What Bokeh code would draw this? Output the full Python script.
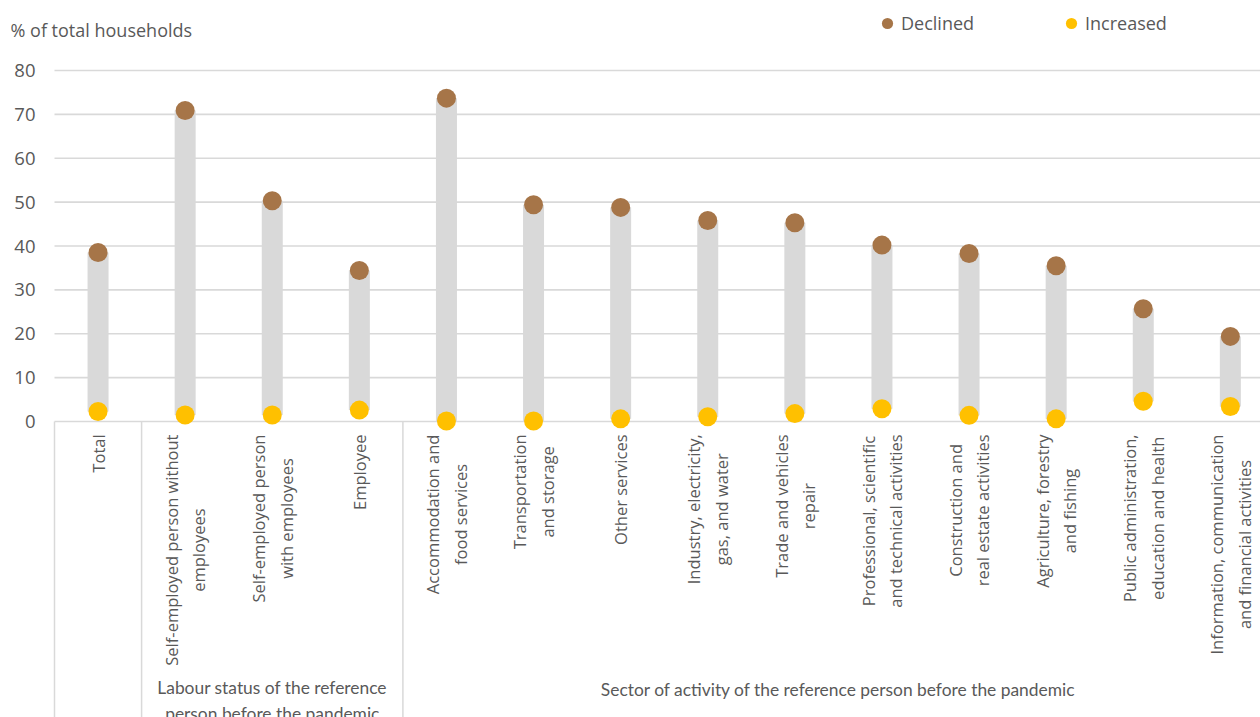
import math
from bokeh.plotting import figure
from bokeh.models import (Range1d, FixedTicker, ColumnDataSource, Label, Legend, LegendItem)
from bokeh.core.properties import value
from bokeh.embed import file_html
from bokeh.resources import INLINE

# ---------------- data ----------------
categories = [
    "Total",
    "Self-employed person without\nemployees",
    "Self-employed person\nwith employees",
    "Employee",
    "Accommodation and\nfood services",
    "Transportation\nand storage",
    "Other services",
    "Industry, electricity,\ngas, and water",
    "Trade and vehicles\nrepair",
    "Professional, scientific\nand technical activities",
    "Construction and\nreal estate activities",
    "Agriculture, forestry\nand fishing",
    "Public administration,\neducation and health",
    "Information, communication\nand financial activities",
]
declined = [38.5, 70.9, 50.3, 34.4, 73.7, 49.4, 48.8, 45.8, 45.3, 40.2, 38.3, 35.5, 25.7, 19.4]
increased = [2.3, 1.5, 1.5, 2.6, 0.1, 0.1, 0.6, 1.1, 1.8, 2.9, 1.4, 0.6, 4.6, 3.4]
groups = ["Labour status of the reference\nperson before the pandemic",
          "Sector of activity of the reference person before the pandemic"]
group_first = [1, 4]
group_last = [3, 13]
y_ticks = [0, 10, 20, 30, 40, 50, 60, 70, 80]

# ---------------- layout ----------------
W, H = 1260, 717
LEFT = 54             # pixel column where the category area starts
AXIS_Y = 421          # pixel row of value 0
TOP_VAL_Y = 70        # pixel row of value 80
px_per_unit = (AXIS_Y - TOP_VAL_Y) / 80.0
cat_w = 87.1
n = len(categories)
cat_left = -0.5
x0 = cat_left - LEFT / cat_w
x1 = cat_left + (W - LEFT) / cat_w
y_top = AXIS_Y / px_per_unit
y_bot = -(H - AXIS_Y) / px_per_unit

GREY_TXT = "#595959"
GRID = "#D9D9D9"
BROWN = "#A67548"
GOLD = "#FFC000"
FONT = "Open Sans"

p = figure(width=W, height=H, output_backend="svg", toolbar_location=None,
           x_range=Range1d(x0, x1), y_range=Range1d(y_bot, y_top),
           min_border_left=0, min_border_right=0, min_border_top=0, min_border_bottom=0)
p.outline_line_color = None
p.background_fill_color = "white"
p.xaxis.visible = False
p.xgrid.visible = False
p.ygrid.visible = False

yax = p.yaxis[0]
yax.fixed_location = cat_left
yax.ticker = FixedTicker(ticks=y_ticks)
yax.axis_line_color = None
yax.major_tick_line_color = None
yax.minor_tick_line_color = None
yax.major_tick_out = 0
yax.major_tick_in = 0
yax.major_label_standoff = 19
yax.major_label_text_font = FONT
yax.major_label_text_font_size = "18.5px"
yax.major_label_text_color = GREY_TXT

# horizontal gridlines across the category area
p.segment(x0=[cat_left] * len(y_ticks), y0=y_ticks, x1=[x1] * len(y_ticks), y1=y_ticks,
          line_color=GRID, line_width=1.6)

xs = list(range(n))
src = ColumnDataSource(dict(x=xs, dec=declined, inc=increased))

# range bars
p.vbar(x="x", bottom="inc", top="dec", width=21 / cat_w, source=src,
       fill_color=GRID, line_color=None)
# dots
r_dec = p.scatter(x="x", y="dec", size=19, source=src, fill_color=BROWN, line_color=None)
r_inc = p.scatter(x="x", y="inc", size=19, source=src, fill_color=GOLD, line_color=None)

# group separators below the axis
sep_x = [cat_left, group_first[0] - 0.5, group_first[1] - 0.5]
p.segment(x0=sep_x, y0=[0] * 3, x1=sep_x, y1=[y_bot] * 3, line_color=GRID, line_width=1.5)

# ---- category labels (rotated, lines centred, block top-anchored) ----
OS = {' ': 532, 'a': 1139, 'b': 1255, 'c': 975, 'd': 1255, 'e': 1149, 'f': 694, 'g': 1122,
      'h': 1257, 'i': 518, 'j': 518, 'k': 1075, 'l': 518, 'm': 1905, 'n': 1257, 'o': 1237,
      'p': 1255, 'q': 1255, 'r': 836, 's': 977, 't': 723, 'u': 1257, 'v': 1026, 'w': 1593,
      'x': 1073, 'y': 1028, 'z': 981, ',': 502, '-': 659, 'A': 1296, 'C': 1292, 'E': 1124,
      'I': 571, 'P': 1225, 'S': 1104, 'T': 1104, 'O': 1599}


def text_w(s, size):
    return sum(OS.get(c, 1150) for c in s) / 2048.0 * size


LBL_SIZE = 16.5
label_top_px = 434
lab_y = []
for c in categories:
    L = max(text_w(line, LBL_SIZE) for line in c.split("\n"))
    lab_y.append(-((label_top_px - AXIS_Y) + L / 2) / px_per_unit)
p.text(x=xs, y=lab_y, text=categories, angle=math.pi / 2,
       text_align="center", text_baseline="middle",
       text_font=value(FONT), text_font_size=f"{LBL_SIZE}px", text_color=GREY_TXT,
       text_line_height=1.2)

# ---- group labels ----
gx = [(a + b) / 2 for a, b in zip(group_first, group_last)]
gy = [-(700 - AXIS_Y) / px_per_unit, -(689 - AXIS_Y) / px_per_unit]
p.text(x=gx, y=gy, text=groups, text_align="center", text_baseline="middle",
       text_font=value("Lato"), text_font_size="17.4px", text_color=GREY_TXT,
       text_line_height=1.25)

# ---- title ----
title = Label(x=10, y=29, x_units="canvas", y_units="canvas", text="% of total households",
              text_font=FONT, text_font_size="18px", text_color=GREY_TXT,
              text_baseline="middle", text_align="left")
p.add_layout(title)

# ---- legend ----
legend = Legend(items=[LegendItem(label="Declined", renderers=[r_dec], index=0),
                       LegendItem(label="Increased", renderers=[r_inc], index=0)],
                orientation="horizontal", location=(873, H - 37),
                glyph_width=28, glyph_height=28, label_standoff=-1, label_width=156,
                spacing=0, padding=0, margin=0,
                label_text_font=FONT, label_text_font_size="18px", label_text_color=GREY_TXT,
                border_line_color=None, background_fill_alpha=0)
p.add_layout(legend)

open("out.html", "w").write(file_html(p, INLINE))
